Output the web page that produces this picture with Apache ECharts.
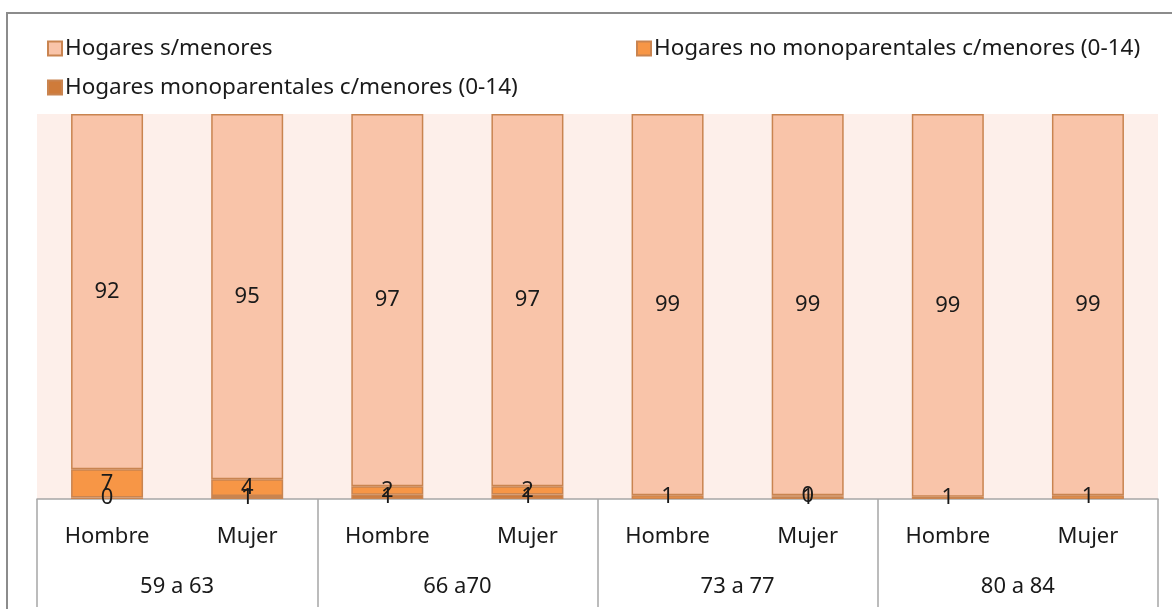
<!DOCTYPE html>
<html>
<head>
<meta charset="utf-8">
<script src="https://cdn.jsdelivr.net/npm/echarts@6/dist/echarts.min.js"></script>
<style>
  html, body { margin: 0; padding: 0; background: #fff; }
  #chart { width: 1172px; height: 609px; }
</style>
</head>
<body>
<div id="chart"></div>
<script>
// categorías (dos niveles)
var sexos = ['Hombre', 'Mujer', 'Hombre', 'Mujer', 'Hombre', 'Mujer', 'Hombre', 'Mujer'];
var grupos = ['59 a 63', '66 a70', '73 a 77', '80 a 84'];

// porcentajes estimados del gráfico
var sinMenores = [92.3, 94.9, 96.7, 96.7, 99.0, 99.0, 99.4, 99.0];
var noMonoparentales = [7.3, 4.3, 2.2, 2.1, 1.0, 0.4, null, 1.0];
var monoparentales = [0.4, 0.8, 1.1, 1.2, null, 0.6, 0.6, null];

var fuente = 'Noto Sans';

var chart = echarts.init(document.getElementById('chart'));

function serie(name, data, color) {
  return {
    name: name,
    type: 'bar',
    stack: 'total',
    xAxisIndex: 0,
    barWidth: 72,
    data: data,
    itemStyle: {
      color: color,
      borderColor: '#c98450',
      borderWidth: 1.5
    },
    label: {
      show: true,
      position: 'inside',
      color: '#1a1a1a',
      fontFamily: fuente,
      fontSize: 22,
      formatter: function (p) {
        return p.value == null ? '' : Math.round(p.value);
      }
    }
  };
}

function leyenda(name, left, top) {
  return {
    data: [name],
    left: left,
    top: top,
    icon: 'rect',
    itemWidth: 14,
    itemHeight: 14,
    itemGap: 4,
    selectedMode: false,
    textStyle: { fontFamily: fuente, fontSize: 22.5, color: '#1a1a1a', padding: [0, 0, 0, -2] }
  };
}

var option = {
  animation: false,
  graphic: [{
    type: 'rect',
    shape: { x: 7, y: 13, width: 1300, height: 700 },
    style: { fill: 'none', stroke: '#8c8c8c', lineWidth: 2 },
    silent: true
  }],
  legend: [
    leyenda('Hogares s/menores', 42, 32),
    leyenda('Hogares no monoparentales c/menores (0-14)', 631, 32),
    leyenda('Hogares monoparentales c/menores (0-14)', 42, 71)
  ],
  grid: {
    left: 37,
    right: 14,
    top: 114,
    bottom: 110,
    show: true,
    backgroundColor: '#fdefea',
    borderWidth: 0
  },
  xAxis: [{
    type: 'category',
    data: sexos,
    axisLine: { show: true, lineStyle: { color: '#a6a6a6', width: 1.5 } },
    axisTick: { show: false },
    axisLabel: {
      interval: 0,
      margin: 27,
      color: '#1a1a1a',
      fontFamily: fuente,
      fontSize: 22
    }
  }, {
    type: 'category',
    data: grupos,
    position: 'bottom',
    axisLine: { show: false },
    axisTick: {
      show: true,
      interval: 0,
      length: 108,
      lineStyle: { color: '#a6a6a6', width: 1.5 }
    },
    axisLabel: {
      interval: 0,
      margin: 77,
      color: '#1a1a1a',
      fontFamily: fuente,
      fontSize: 22
    }
  }],
  yAxis: {
    type: 'value',
    min: 0,
    max: 100,
    show: false,
    splitLine: { show: false }
  },
  series: [
    serie('Hogares monoparentales c/menores (0-14)', monoparentales, '#cf7b3a'),
    serie('Hogares no monoparentales c/menores (0-14)', noMonoparentales, '#f79646'),
    serie('Hogares s/menores', sinMenores, '#f9c4a9')
  ]
};

chart.setOption(option);
</script>
</body>
</html>
